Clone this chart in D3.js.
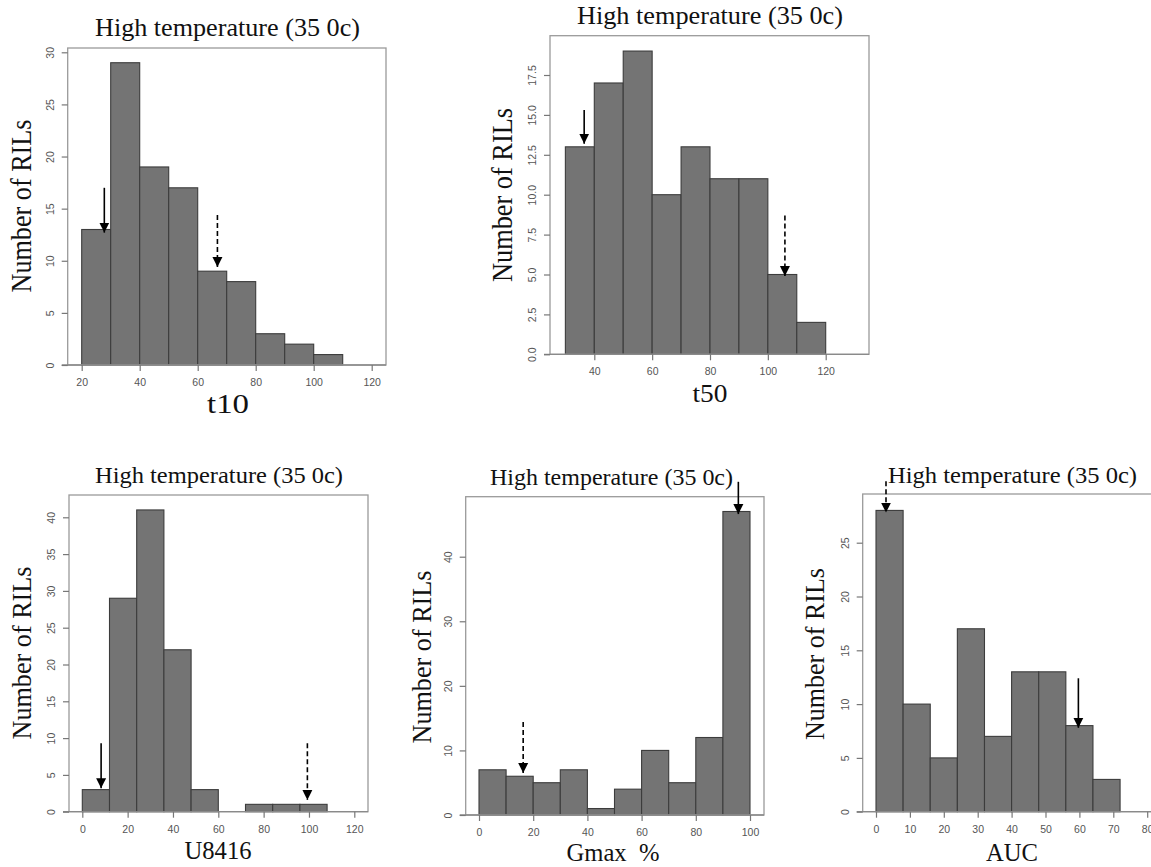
<!DOCTYPE html>
<html><head><meta charset="utf-8">
<script src="https://cdn.jsdelivr.net/npm/d3@7"></script>
<style>body{margin:0;background:#fff}svg{display:block}</style>
</head><body><svg id="c" width="1151" height="867"></svg>
<script>
// ---------- data ----------
const titleText = "High temperature (35 0c)";
const yLabelText = "Number of RILs";

const t10Bins   = [20,30,40,50,60,70,80,90,100];
const t10Counts = [13,29,19,17,9,8,3,2,1];
const t10XTicks = [20,40,60,80,100,120];
const t10YTicks = [0,5,10,15,20,25,30];
const t10Arrows = [{x:27.8,from:17.0,to:12.7,dashed:false},{x:66.8,from:14.4,to:9.4,dashed:true}];

const t50Bins   = [30,40,50,60,70,80,90,100,110];
const t50Counts = [13,17,19,10,13,11,11,5,2];
const t50XTicks = [40,60,80,100,120];
const t50YTicks = [0,2.5,5,7.5,10,12.5,15,17.5];
const t50YTickLabels = ["0.0","2.5","5.0","7.5","10.0","12.5","15.0","17.5"];
const t50Arrows = [{x:36.5,from:15.3,to:13.2,dashed:false},{x:105.9,from:8.7,to:4.9,dashed:true}];

const u8416Bins   = [0,12,24,36,48,60,72,84,96];
const u8416Counts = [3,29,41,22,3,0,1,1,1];
const u8416XTicks = [0,20,40,60,80,100,120];
const u8416YTicks = [0,5,10,15,20,25,30,35,40];
const u8416Arrows = [{x:8.3,from:9.3,to:3.2,dashed:false},{x:99.3,from:9.3,to:1.6,dashed:true}];

const gmaxBins   = [0,10,20,30,40,50,60,70,80,90];
const gmaxCounts = [7,6,5,7,1,4,10,5,12,47];
const gmaxXTicks = [0,20,40,60,80,100];
const gmaxYTicks = [0,10,20,30,40];
const gmaxArrows = [{x:16.3,from:14.4,to:6.5,dashed:true},{x:95.7,from:51.6,to:46.6,dashed:false}];

const aucBins   = [0,8,16,24,32,40,48,56,64];
const aucCounts = [28,10,5,17,7,13,13,8,3];
const aucXTicks = [0,10,20,30,40,50,60,70,80];
const aucYTicks = [0,5,10,15,20,25];
const aucArrows = [{x:2.95,from:30.7,to:27.8,dashed:true},{x:59.7,from:12.4,to:7.8,dashed:false}];

// ---------- layout ----------
const panels = [
  {bins:t10Bins,bw:10,counts:t10Counts,xTicks:t10XTicks,yTicks:t10YTicks,arrows:t10Arrows,
   xDom:[20,120],yDom:[0,30],xR:[81.7,371.7],yR:[365,52.3],box:[67.7,48,386,365],
   title:{x:227.5,y:36,len:265,size:25},
   xlab:{t:"t10",x:228,y:413,size:28,len:42},
   ylab:{x:31,y:206,len:173,size:29}},
  {bins:t50Bins,bw:10,counts:t50Counts,xTicks:t50XTicks,yTicks:t50YTicks,yLabels:t50YTickLabels,arrows:t50Arrows,
   xDom:[40,120],yDom:[0,17.5],xR:[594.3,825.7],yR:[354.3,75],box:[550,35.7,869,354.3],
   title:{x:710,y:24,len:266,size:25},
   xlab:{t:"t50",x:710,y:402,size:26,len:35},
   ylab:{x:512,y:195,len:174,size:29}},
  {bins:u8416Bins,bw:12,counts:u8416Counts,xTicks:u8416XTicks,yTicks:u8416YTicks,arrows:u8416Arrows,
   xDom:[0,120],yDom:[0,40],xR:[82.3,354.3],yR:[811.7,517.3],box:[69,495,368,811.7],
   title:{x:219,y:483,len:248,size:24},
   xlab:{t:"U8416",x:218,y:859,size:26,len:67},
   ylab:{x:31,y:653,len:173,size:28}},
  {bins:gmaxBins,bw:10,counts:gmaxCounts,xTicks:gmaxXTicks,yTicks:gmaxYTicks,arrows:gmaxArrows,
   xDom:[0,100],yDom:[0,40],xR:[479,750],yR:[815,556.7],box:[465.7,496.7,764,815],
   title:{x:611.5,y:485,len:243,size:24},
   xlab:{t:"Gmax  %",x:613,y:861,size:25,len:93},
   ylab:{x:431,y:657,len:173,size:28}},
  {bins:aucBins,bw:8,counts:aucCounts,xTicks:aucXTicks,yTicks:aucYTicks,arrows:aucArrows,
   xDom:[0,70],yDom:[0,25],xR:[876,1113.3],yR:[811.7,542.7],box:[862.7,494,1162,811.7],
   title:{x:1012.5,y:483,len:249,size:24},
   xlab:{t:"AUC",x:1012,y:861,size:26,len:52},
   ylab:{x:824,y:654,len:172,size:28}}
];

const svg = d3.select("#c");
const defs = svg.append("defs");
defs.append("marker").attr("id","ah").attr("viewBox","0 0 10 10")
  .attr("refX",10).attr("refY",5).attr("markerWidth",10).attr("markerHeight",11)
  .attr("markerUnits","userSpaceOnUse").attr("orient","auto")
  .append("path").attr("d","M0,0L10,5L0,10Z").attr("fill","#000");

const serif = "Liberation Serif, Times New Roman, serif";
const sans = "Liberation Sans, Arial, Helvetica, sans-serif";

panels.forEach(p => {
  const x = d3.scaleLinear().domain(p.xDom).range(p.xR);
  const y = d3.scaleLinear().domain(p.yDom).range(p.yR);
  const g = svg.append("g");
  const [bx0,by0,bx1,by1] = p.box;

  // bars
  g.selectAll("rect.bar").data(p.counts.map((c,i)=>({x0:p.bins[i],c})).filter(d=>d.c>0))
    .enter().append("rect")
    .attr("x",d=>x(d.x0)).attr("width",d=>x(d.x0+p.bw)-x(d.x0))
    .attr("y",d=>y(d.c)).attr("height",d=>y(0)-y(d.c))
    .attr("fill","#747474").attr("stroke","#3c3c3c").attr("stroke-width",1.1);

  // box
  g.append("rect").attr("x",bx0).attr("y",by0).attr("width",bx1-bx0).attr("height",by1-by0)
    .attr("fill","none").attr("stroke","#9a9a9a").attr("stroke-width",1.3);
  g.append("line").attr("x1",bx0-6).attr("x2",bx1).attr("y1",by1).attr("y2",by1)
    .attr("stroke","#8a8a8a").attr("stroke-width",1.3);

  // x axis
  const xa = g.append("g").attr("transform",`translate(0,${by1})`)
    .call(d3.axisBottom(x).tickValues(p.xTicks).tickSize(6).tickPadding(6).tickFormat(d3.format("d")));
  xa.select(".domain").remove();
  xa.selectAll("line").attr("stroke","#777").attr("stroke-width",1.2);
  xa.selectAll("text").attr("font-family",sans).attr("font-size",10.5).attr("fill","#555")
    .attr("dy",null).attr("y",21).attr("dominant-baseline","auto");

  // y axis
  const ya = g.append("g").attr("transform",`translate(${bx0},0)`)
    .call(d3.axisLeft(y).tickValues(p.yTicks).tickSize(6)
      .tickFormat((d,i)=>p.yLabels ? p.yLabels[i] : d3.format("d")(d)));
  ya.select(".domain").remove();
  ya.selectAll("line").attr("stroke","#777").attr("stroke-width",1.2);
  ya.selectAll("text").attr("font-family",sans).attr("font-size",10.5).attr("fill","#555")
    .attr("x",null).attr("dy",null).attr("text-anchor","middle")
    .attr("transform","translate(-14,0) rotate(-90)");

  // arrows
  p.arrows.forEach(a => {
    g.append("line").attr("x1",x(a.x)).attr("x2",x(a.x)).attr("y1",y(a.from)).attr("y2",y(a.to))
      .attr("stroke","#000").attr("stroke-width",1.6)
      .attr("stroke-dasharray",a.dashed?"5,3":null)
      .attr("marker-end","url(#ah)");
  });

  // title
  g.append("text").attr("x",p.title.x).attr("y",p.title.y).attr("text-anchor","middle")
    .attr("font-family",serif).attr("font-size",p.title.size).attr("fill","#111")
    .attr("textLength",p.title.len).attr("lengthAdjust","spacingAndGlyphs").text(titleText);
  // x label
  g.append("text").attr("x",p.xlab.x).attr("y",p.xlab.y).attr("text-anchor","middle")
    .attr("font-family",serif).attr("font-size",p.xlab.size).attr("fill","#111")
    .attr("textLength",p.xlab.len).attr("lengthAdjust","spacingAndGlyphs")
    .style("white-space","pre").text(p.xlab.t);
  // y label
  g.append("text").attr("transform",`translate(${p.ylab.x},${p.ylab.y}) rotate(-90)`)
    .attr("text-anchor","middle").attr("font-family",serif).attr("font-size",p.ylab.size)
    .attr("fill","#111").attr("textLength",p.ylab.len).attr("lengthAdjust","spacingAndGlyphs")
    .text(yLabelText);
});
</script></body></html>
